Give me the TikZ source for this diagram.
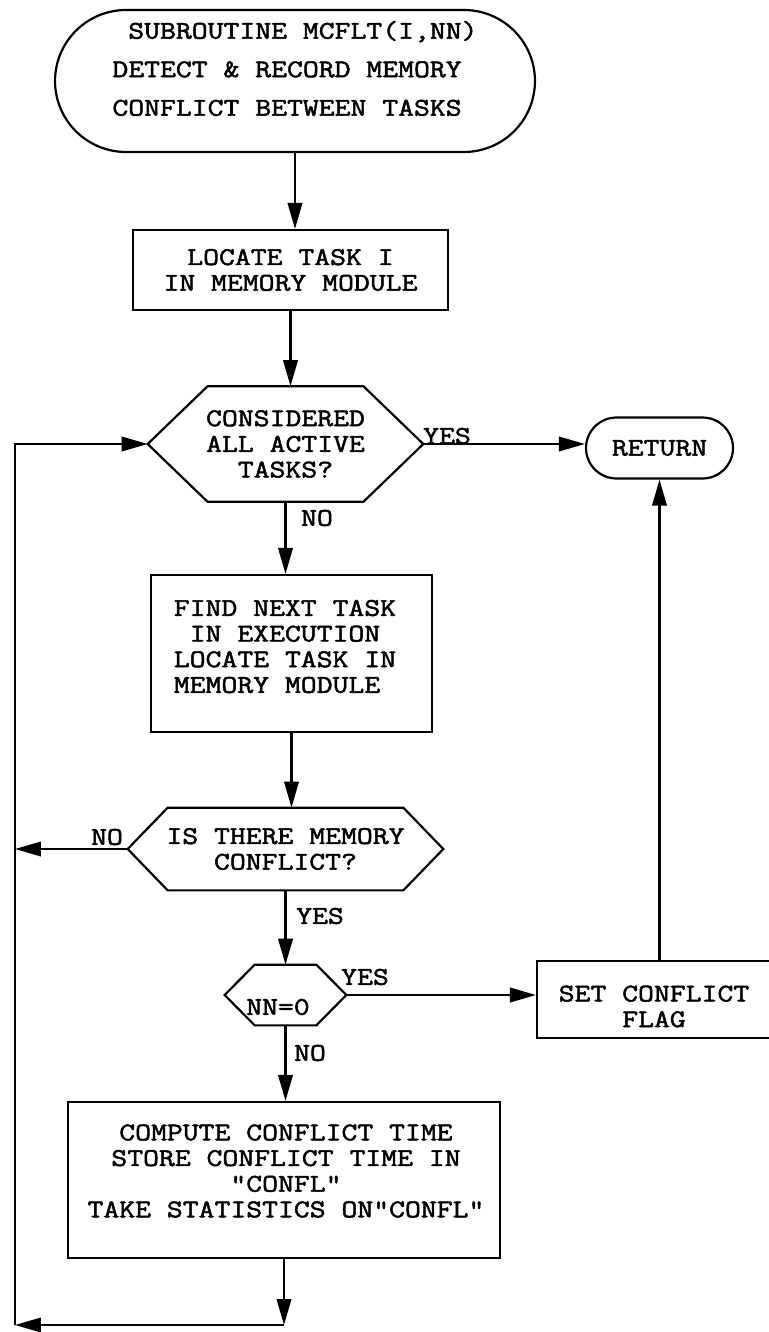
\documentclass[tikz,border=0pt]{standalone}
\usepackage{fontspec}
\setmonofont{Latin Modern Mono}[FakeStretch=1.21, FakeBold=2]
\usetikzlibrary{arrows.meta, shapes.misc}

% hexagonal decision outline drawn around a plain rectangular node
\newcommand{\hexoutline}[2]{%
  \draw[flowline] (#1.west) -- ([xshift=#2]#1.north west) -- ([xshift=-#2]#1.north east)
    -- (#1.east) -- ([xshift=-#2]#1.south east) -- ([xshift=#2]#1.south west) -- cycle;}

\tikzset{
  flowline/.style={line width=1.25pt, draw=black},
  arrowline/.style={flowline, -{Triangle[length=0.52cm, width=0.29cm]}},
  mono/.style={font=\ttfamily\fontsize{14.5}{14.6}\selectfont, inner sep=0pt, align=center},
  termbox/.style={rounded rectangle, draw, line width=1.25pt, inner sep=0pt, mono},
  procbox/.style={rectangle, draw, line width=1.25pt, inner sep=0pt, mono},
  hexbox/.style={rectangle, inner sep=0pt, mono},
}

\begin{document}
\begin{tikzpicture}[x=0.02cm, y=-0.02cm]
\useasboundingbox (0,0) rectangle (768,1332);

% start terminal
\node[termbox, minimum width=9.6cm, minimum height=2.84cm] (start) at (295,81) {};
\node[mono, align=left, font=\ttfamily\fontsize{14.5}{21.9}\selectfont] (starttxt) at (295,68.5)
  {\phantom{S}SUBROUTINE MCFLT(I,NN)\\DETECT \& RECORD MEMORY\\CONFLICT BETWEEN TASKS};

% locate task I
\node[procbox, minimum width=6.3cm, minimum height=1.6cm] (locate) at (290.5,270)
  {LOCATE TASK I\\IN MEMORY MODULE};

% all tasks considered?
\node[hexbox, minimum width=5.5cm, minimum height=2.3cm] (allq) at (285.5,444)
  {CONSIDERED\\ALL ACTIVE\\TASKS?};
\hexoutline{allq}{1.2cm}

% return terminal
\node[termbox, minimum width=2.94cm, minimum height=1.22cm] (ret) at (659.5,448) {RETURN};

% find next task
\node[procbox, minimum width=5.62cm, minimum height=3.14cm] (next) at (291.5,653.5) {};
\node[mono, align=left] (nexttxt) at (285,646.5)
  {FIND NEXT TASK\\\phantom{F}IN EXECUTION\\LOCATE TASK IN\\MEMORY MODULE};

% memory conflict?
\node[hexbox, minimum width=6.3cm, minimum height=1.64cm] (confq) at (285.5,849)
  {IS THERE MEMORY\\CONFLICT?};
\hexoutline{confq}{0.8cm}

% NN = 0 ?
\node[hexbox, minimum width=2.42cm, minimum height=1.2cm] (nnq) at (285.5,995) {};
\hexoutline{nnq}{0.6cm}
\node[mono] (nntxt) at (278,1007) {NN=0};

% set conflict flag
\node[procbox, minimum width=4.66cm, minimum height=1.54cm] (setflag) at (653.5,999.5) {};
\node[mono] (settxt) at (654,1006.5) {SET CONFLICT\\FLAG};

% compute conflict time
\node[procbox, minimum width=8.64cm, minimum height=3.12cm] (compute) at (284,1180) {};
\node[mono] (computetxt) at (286,1171)
  {COMPUTE CONFLICT TIME\\STORE CONFLICT TIME IN\\"CONFL"\\TAKE STATISTICS ON"CONFL"};

% branch labels
\node[mono] (yes1) at (447,436) {YES};
\node[mono] (no1) at (317,518) {NO};
\node[mono] (no2) at (107,837) {NO};
\node[mono] (yes2) at (320,916) {YES};
\node[mono] (yes3) at (365,977) {YES};
\node[mono] (no3) at (310,1053) {NO};

% main flow
\draw[arrowline] (start.south) -- (start.south |- locate.north);
\draw[arrowline] (locate.south) -- (locate.south |- allq.north);
\draw[arrowline] (allq.south) -- (allq.south |- next.north);
\draw[arrowline] (next.south) -- (next.south |- confq.north);
\draw[arrowline] (confq.south) -- (confq.south |- nnq.north);
\draw[arrowline] (nnq.south) -- (nnq.south |- compute.north);
\draw[arrowline] (allq.east) -- (allq.east -| ret.west);
\draw[arrowline] (nnq.east) -- (nnq.east -| setflag.west);
\draw[arrowline] (ret.south |- setflag.north) -- (ret.south);

% return loop along the left margin
\coordinate (loopturn) at (compute.south |- 0,1325);
\coordinate (loopcorner) at (15,1325);
\draw[arrowline] (compute.south) -- (loopturn);
\draw[arrowline] (loopturn) -- (loopcorner);
\draw[arrowline] (loopcorner) -- (loopcorner |- allq.west) -- (allq.west);
\draw[arrowline] (confq.west) -- (confq.west -| loopcorner);
\end{tikzpicture}
\end{document}
